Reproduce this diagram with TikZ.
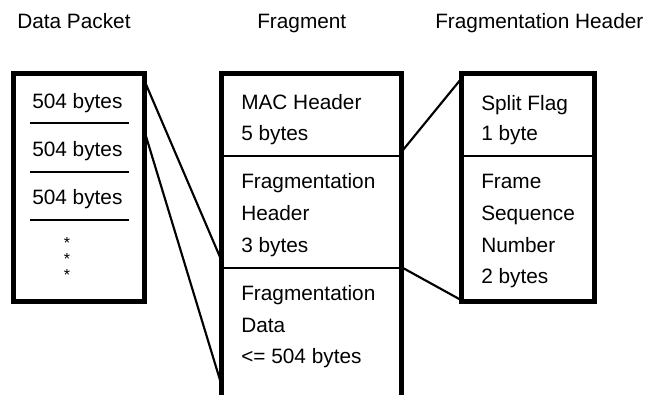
\documentclass[tikz,border=0pt]{standalone}
\usepackage{fontspec}
\setmainfont{Liberation Sans}
\begin{document}
\begin{tikzpicture}[x=0.75pt,y=-0.75pt,
  every node/.style={font=\fontsize{15.6}{18}\selectfont, inner sep=0pt, anchor=base west},
  frame/.style={line width=3.8pt, line join=miter},
  divider/.style={line width=1.9pt},
  sepline/.style={line width=2.2pt},
  link/.style={line width=1.6pt},
  star/.style={anchor=center, font=\fontsize{12}{12}\selectfont}]
\useasboundingbox (0,0) rectangle (647,394);

% titles
\node (t1) at (17,28) {Data Packet};
\node (t2) at (257,28) {Fragment};
\node (t3) at (435,28) {Fragmentation Header};

% Data packet box
\draw[frame] (13.5,73.5) rectangle (144.5,301.5);
\draw[sepline] (30,123) -- (129,123);
\draw[sepline] (30,172) -- (129,172);
\draw[sepline] (30,220) -- (129,220);
\node (p1) at (32,108) {504 bytes};
\node (p2) at (32,156) {504 bytes};
\node (p3) at (32,204) {504 bytes};
\node[star] (s1) at (67,243) {*};
\node[star] (s2) at (67,259) {*};
\node[star] (s3) at (67,275) {*};

% Fragment box (open at bottom)
\draw[frame] (221.5,396) -- (221.5,73.5) -- (401.5,73.5) -- (401.5,396);
\draw[divider] (221.5,156) -- (401.5,156);
\draw[divider] (221.5,268) -- (401.5,268);
\node (f1) at (241,109) {MAC Header};
\node (f2) at (241,140) {5 bytes};
\node (f3) at (241,188) {Fragmentation};
\node (f4) at (241,220) {Header};
\node (f5) at (241,252) {3 bytes};
\node (f6) at (241,300) {Fragmentation};
\node (f7) at (241,332) {Data};
\node (f8) at (241,363) {<= 504 bytes};

% Fragmentation header box
\draw[frame] (461.5,73.5) rectangle (594.5,301.5);
\draw[divider] (461.5,156) -- (594.5,156);
\node (h1) at (481,110) {Split Flag};
\node (h2) at (481,140) {1 byte};
\node (h3) at (481,188) {Frame};
\node (h4) at (481,220) {Sequence};
\node (h5) at (481,252) {Number};
\node (h6) at (481,283) {2 bytes};

% connector end points
\coordinate (pa) at (145,82);
\coordinate (pb) at (145,133);
\coordinate (fa) at (220,257);
\coordinate (fb) at (220,380);
\coordinate (fc) at (403,150);
\coordinate (fd) at (403,268);
\coordinate (ha) at (461,79);
\coordinate (hb) at (461,300);

\draw[link] (pa) -- (fa);
\draw[link] (pb) -- (fb);
\draw[link] (fc) -- (ha);
\draw[link] (fd) -- (hb);
\end{tikzpicture}
\end{document}
